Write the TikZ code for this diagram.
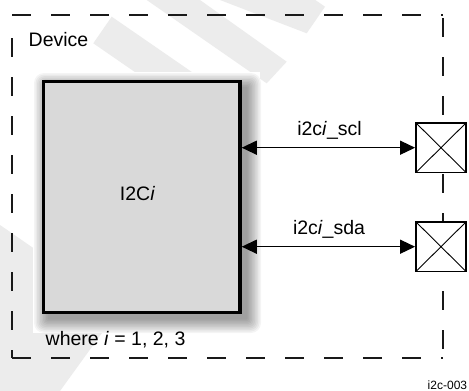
\documentclass[tikz,border=0pt]{standalone}
\usepackage{fontspec}
\setmainfont{Liberation Sans}
\usetikzlibrary{arrows.meta}
\definecolor{wm}{RGB}{236,236,236}
\definecolor{blockfill}{RGB}{217,217,217}
\definecolor{lineblack}{RGB}{25,25,25}
\begin{document}
\begin{tikzpicture}[x=1pt,y=-1pt,
  lbl/.style={font=\fontsize{19.5}{22}\selectfont, inner sep=0pt, anchor=base},
  border/.style={line width=2.2pt, draw=lineblack, dash pattern=on 19.3pt off 19.7pt},
  port/.style={draw=black, line width=1.8pt, fill=white, minimum width=50pt, minimum height=49.5pt, inner sep=0pt,
    path picture={\draw[line width=0.9pt] (path picture bounding box.north west) -- (path picture bounding box.south east)
      (path picture bounding box.north east) -- (path picture bounding box.south west);}},
  sig/.style={line width=1.3pt, {Triangle[length=15pt,width=14pt]}-{Triangle[length=15pt,width=14pt]}},
  blockbox/.style={draw=black, line width=3.5pt, fill=blockfill, minimum width=196.7pt, minimum height=230.6pt, inner sep=0pt}]
\useasboundingbox (0,0) rectangle (469,391);
\fill[white] (0,0) rectangle (469,391);
% watermark
\fill[wm] (111.7,16.7) -- (232.4,100) -- (175.5,100) -- (93.3,43.3) -- cycle;
\fill[wm] (146.7,0) -- (200,0) -- (286.7,61.7) -- (266.7,83.3) -- cycle;
\fill[wm] (220,0) -- (315.3,0) -- (325,6.7) -- (306.7,33.3) -- cycle;
\fill[wm] (0,225) -- (120,308) -- (60,391) -- (0,391) -- cycle;
% halo
\fill[white] (33,72) rectangle (260,333);
% shadow
\foreach \k in {1,...,10}{
  \fill[black, opacity=0.045, rounded corners=\k pt] (49-1.5*\k,88-1.5*\k) rectangle (246+1.5*\k,318+1.5*\k);
}
% block
\node[blockbox] (blk) at (141.65,197) {};
\node[lbl] (name) at (137.5,200.7) {I2C\textit{i}};
% border
\draw[border] (12,15) -- (443,15);
\draw[border] (443,18) -- (443,358);
\draw[border] (12,358) -- (443,358);
\draw[border] (12,38) -- (12,358);
% labels
\node[lbl, anchor=base west] (dev) at (28.5,46.7) {Device};
\node[lbl, anchor=base west] (where) at (45.5,345.7) {where \textit{i} = 1, 2, 3};
\node[font=\fontsize{12}{14}\selectfont, anchor=base east, inner sep=0pt] (id) at (467.3,389.3) {i2c-003};
% ports
\node[port] (p1) at (441,147.7) {};
\node[port] (p2) at (441,246.7) {};
\draw[sig] (blk.east |- p1.west) -- (p1.west);
\draw[sig] (blk.east |- p2.west) -- (p2.west);
\node[lbl] (scl) at (329.5,135.7) {i2c\textit{i}\_scl};
\node[lbl] (sda) at (329,234.5) {i2c\textit{i}\_sda};
\end{tikzpicture}
\end{document}
